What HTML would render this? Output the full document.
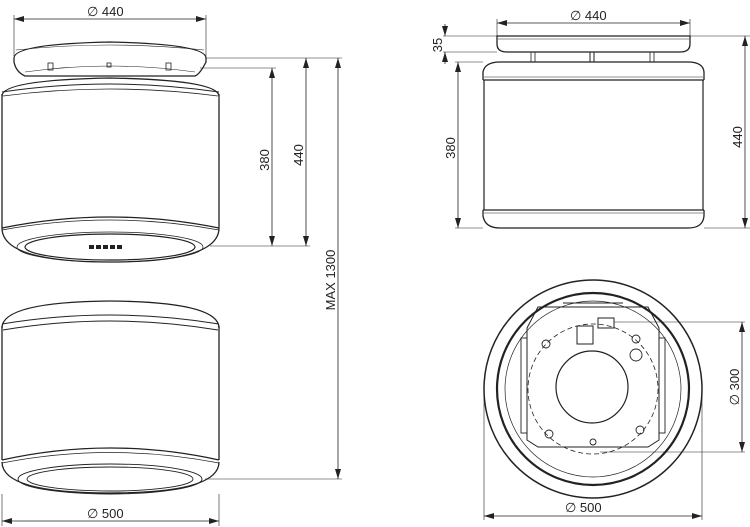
<!DOCTYPE html>
<html><head><meta charset="utf-8"><style>
html,body{margin:0;padding:0;background:#fff;}
svg{display:block;}
text{font-family:"Liberation Sans",sans-serif;font-size:13px;fill:#222;}
</style></head><body>
<svg width="750" height="527" viewBox="0 0 750 527" xmlns="http://www.w3.org/2000/svg">
<defs>
<marker id="a" viewBox="0 0 10 6" refX="10" refY="3" markerWidth="10" markerHeight="6" orient="auto-start-reverse" markerUnits="userSpaceOnUse"><path d="M0,0L10,3L0,6z" fill="#222"/></marker>
</defs>
<g fill="none" stroke="#222" stroke-width="1">
<path d="M14,58 Q14,44 110,42 Q206,44 206,58 L206,62 Q200,74 195,76 L25,76 Q16,72 14,62 Z" stroke-width="1.3"/>
<path d="M16,50 Q110,40 204,50" stroke-width="0.6"/>
<path d="M25,72 Q110,60 195,72" stroke-width="0.6"/>
<rect x="48" y="63" width="5" height="7" stroke-width="0.8"/>
<rect x="107" y="63" width="4" height="4" stroke-width="0.8"/>
<rect x="166" y="63" width="5" height="7" stroke-width="0.8"/>
<path d="M2,96 Q2,80 110,78 Q218,80 219,96" stroke-width="1.3"/>
<path d="M2,92 Q110,76 219,92" stroke-width="1"/>
<path d="M3,96 Q110,82 218,96" stroke-width="0.8"/>
<line x1="2" y1="94" x2="2" y2="228" stroke-width="1.3"/>
<line x1="219" y1="94" x2="219" y2="228" stroke-width="1.3"/>
<path d="M2,228 Q110,206 219,228" stroke-width="1.3"/>
<path d="M2,230 Q110,210 219,230" stroke-width="0.8"/>
<path d="M2,228 Q2,262 110,262 Q219,262 219,228" stroke-width="1.3"/>
<ellipse cx="110" cy="247" rx="93" ry="15" stroke-width="0.7"/>
<ellipse cx="110" cy="247" rx="85" ry="13" stroke-width="1.2"/>
<line x1="14" y1="19" x2="206" y2="19" marker-start="url(#a)" marker-end="url(#a)" stroke-width="0.8"/>
<line x1="14" y1="15" x2="14" y2="56" stroke-width="0.6"/>
<line x1="206" y1="15" x2="206" y2="56" stroke-width="0.6"/>
<line x1="206" y1="58" x2="342" y2="58" stroke-width="0.6"/>
<line x1="200" y1="68" x2="276" y2="68" stroke-width="0.6"/>
<line x1="210" y1="246" x2="310" y2="246" stroke-width="0.6"/>
<line x1="272" y1="68" x2="272" y2="246" marker-start="url(#a)" marker-end="url(#a)" stroke-width="0.8"/>
<line x1="306" y1="58" x2="306" y2="246" marker-start="url(#a)" marker-end="url(#a)" stroke-width="0.8"/>
<line x1="338" y1="58" x2="338" y2="479" marker-start="url(#a)" marker-end="url(#a)" stroke-width="0.8"/>
<line x1="205" y1="479" x2="342" y2="479" stroke-width="0.6"/>

<path d="M2,328 Q2,302 110,301 Q219,302 219,328" stroke-width="1.3"/>
<path d="M2,324 Q110,306 219,324" stroke-width="1"/>
<path d="M3,330 Q110,312 218,330" stroke-width="1"/>
<line x1="2" y1="326" x2="2" y2="460" stroke-width="1.3"/>
<line x1="219" y1="326" x2="219" y2="460" stroke-width="1.3"/>
<path d="M2,460 Q110,436 219,460" stroke-width="1.3"/>
<path d="M2,463 Q110,442 219,463" stroke-width="0.8"/>
<path d="M2,462 Q2,493 110,493 Q219,493 219,462" stroke-width="1.3"/>
<ellipse cx="110" cy="479" rx="92" ry="15" stroke-width="0.9"/>
<ellipse cx="110" cy="479" rx="83" ry="12" stroke-width="0.9"/>
<line x1="2" y1="521" x2="219" y2="521" marker-start="url(#a)" marker-end="url(#a)" stroke-width="0.8"/>
<line x1="2" y1="494" x2="2" y2="526" stroke-width="0.6"/>
<line x1="219" y1="494" x2="219" y2="526" stroke-width="0.6"/>

<path d="M497,36 L690,36 L690,44 Q690,52 680,52 L507,52 Q497,52 497,44 Z" stroke-width="1.3"/>
<line x1="498" y1="39" x2="689" y2="39" stroke-width="0.6"/>
<rect x="531" y="52" width="4" height="10" stroke-width="0.8"/>
<rect x="650" y="52" width="4" height="10" stroke-width="0.8"/>
<line x1="590" y1="52" x2="590" y2="62"/><line x1="594" y1="52" x2="594" y2="62"/>
<path d="M483,80 L483,72 Q485,62 500,62 L688,62 Q703,62 704,72 L704,80" stroke-width="1.3"/>
<line x1="484" y1="77" x2="703" y2="77" stroke-width="0.6"/>
<line x1="483" y1="80" x2="704" y2="80" stroke-width="1.2"/>
<line x1="484" y1="80" x2="484" y2="210" stroke-width="1.2"/>
<line x1="703" y1="80" x2="703" y2="210" stroke-width="1.2"/>
<line x1="483" y1="210" x2="704" y2="210" stroke-width="1.2"/>
<line x1="484" y1="213" x2="703" y2="213" stroke-width="0.6"/>
<path d="M483,210 L483,216 Q485,228 500,228 L688,228 Q703,228 704,216 L704,210" stroke-width="1.3"/>
<line x1="497" y1="23" x2="690" y2="23" marker-start="url(#a)" marker-end="url(#a)" stroke-width="0.8"/>
<line x1="497" y1="19" x2="497" y2="36" stroke-width="0.6"/>
<line x1="690" y1="19" x2="690" y2="36" stroke-width="0.6"/>
<line x1="443" y1="36" x2="497" y2="36" stroke-width="0.6"/>
<line x1="443" y1="52" x2="497" y2="52" stroke-width="0.6"/>
<line x1="445" y1="24" x2="445" y2="36" marker-end="url(#a)" stroke-width="0.8"/>
<line x1="445" y1="64" x2="445" y2="52" marker-end="url(#a)" stroke-width="0.8"/>
<line x1="455" y1="62" x2="483" y2="62" stroke-width="0.6"/>
<line x1="455" y1="228" x2="483" y2="228" stroke-width="0.6"/>
<line x1="458" y1="62" x2="458" y2="228" marker-start="url(#a)" marker-end="url(#a)" stroke-width="0.8"/>
<line x1="690" y1="36" x2="750" y2="36" stroke-width="0.6"/>
<line x1="704" y1="228" x2="750" y2="228" stroke-width="0.6"/>
<line x1="745" y1="36" x2="745" y2="228" marker-start="url(#a)" marker-end="url(#a)" stroke-width="0.8"/>

<circle cx="593" cy="389" r="109" stroke-width="1.5"/>
<circle cx="593" cy="389" r="96" stroke-width="2.2"/>
<circle cx="593" cy="389" r="88" stroke-width="0.7"/>
<path d="M527,328 L538,307 L648,307 L659,328 L659,440 L648,447 L538,447 L527,440 Z" stroke-width="1"/>
<line x1="563" y1="303" x2="623" y2="303" stroke-width="1"/>
<circle cx="593" cy="389" r="65" stroke-dasharray="5,3" stroke-width="0.8"/>
<circle cx="592" cy="387" r="36" stroke-width="1.2"/>
<rect x="521" y="338" width="6" height="95" stroke-width="0.9"/>
<rect x="659" y="338" width="6" height="95" stroke-width="0.9"/>
<rect x="577" y="326" width="16" height="18" stroke-width="1"/>
<rect x="598" y="318" width="16" height="10" stroke-width="1"/>
<circle cx="636" cy="355" r="6" stroke-width="0.9"/>
<circle cx="546" cy="344" r="4" stroke-width="0.9"/>
<circle cx="636" cy="339" r="4" stroke-width="0.9"/>
<circle cx="549" cy="434" r="4" stroke-width="0.9"/>
<circle cx="640" cy="430" r="4" stroke-width="0.9"/>
<circle cx="593" cy="442" r="3" stroke-width="0.9"/>
<line x1="614" y1="322" x2="745" y2="322" stroke-width="0.6"/>
<line x1="600" y1="452" x2="745" y2="452" stroke-width="0.6"/>
<line x1="742" y1="322" x2="742" y2="452" marker-start="url(#a)" marker-end="url(#a)" stroke-width="0.8"/>
<line x1="484" y1="390" x2="484" y2="520" stroke-width="0.6"/>
<line x1="702" y1="390" x2="702" y2="520" stroke-width="0.6"/>
<line x1="484" y1="516" x2="702" y2="516" marker-start="url(#a)" marker-end="url(#a)" stroke-width="0.8"/>
</g>
<g fill="#222">
<rect x="89" y="245" width="5" height="4"/><rect x="96" y="245" width="5" height="4"/><rect x="103" y="245" width="5" height="4"/><rect x="110" y="245" width="5" height="4"/><rect x="117" y="245" width="5" height="4"/>
</g>
<text x="87" y="16">∅ 440</text>
<text x="570" y="20">∅ 440</text>
<text x="87" y="518">∅ 500</text>
<text x="565" y="512">∅ 500</text>
<text transform="translate(269,160) rotate(-90)" text-anchor="middle">380</text>
<text transform="translate(303,155) rotate(-90)" text-anchor="middle">440</text>
<text transform="translate(335,280) rotate(-90)" text-anchor="middle">MAX 1300</text>
<text transform="translate(442,45) rotate(-90)" text-anchor="middle">35</text>
<text transform="translate(455,148) rotate(-90)" text-anchor="middle">380</text>
<text transform="translate(742,137) rotate(-90)" text-anchor="middle">440</text>
<text transform="translate(739,387) rotate(-90)" text-anchor="middle">∅ 300</text>
</svg>
</body></html>
